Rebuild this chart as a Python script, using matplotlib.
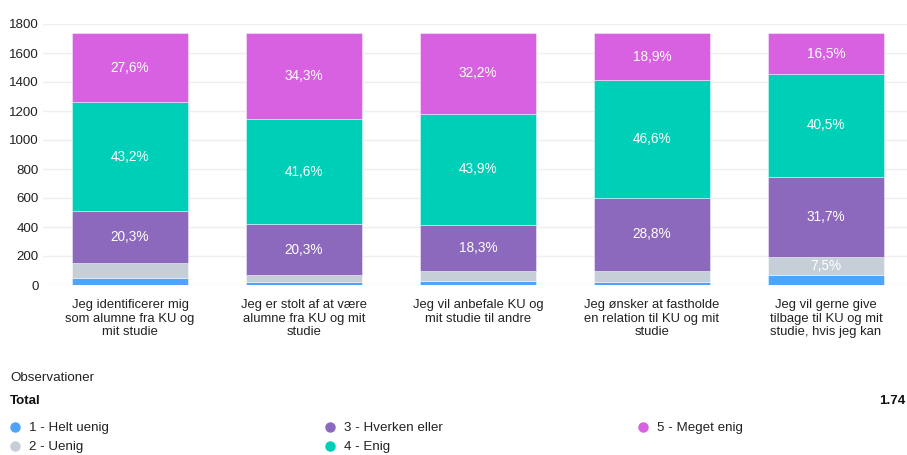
import numpy as np
import matplotlib.pyplot as plt
from matplotlib.lines import Line2D

plt.rcParams['font.family'] = ['Liberation Sans', 'DejaVu Sans']

categories = [
    "Jeg identificerer mig\nsom alumne fra KU og\nmit studie",
    "Jeg er stolt af at være\nalumne fra KU og mit\nstudie",
    "Jeg vil anbefale KU og\nmit studie til andre",
    "Jeg ønsker at fastholde\nen relation til KU og mit\nstudie",
    "Jeg vil gerne give\ntilbage til KU og mit\nstudie, hvis jeg kan",
]
series = ["1 - Helt uenig", "2 - Uenig", "3 - Hverken eller", "4 - Enig", "5 - Meget enig"]
colors = ["#4fa3fb", "#c6cfd7", "#8c69bc", "#00cfb8", "#d761e0"]

helt_uenig = [45, 24, 30, 22, 66]
uenig = [110, 42, 67, 77, 130]
hverken = [353, 353, 318, 501, 552]
enig = [752, 724, 765, 811, 705]
meget_enig = [480, 597, 560, 329, 287]
pct_labels = [
    [None, None, None, None, None],
    [None, None, None, None, "7,5%"],
    ["20,3%", "20,3%", "18,3%", "28,8%", "31,7%"],
    ["43,2%", "41,6%", "43,9%", "46,6%", "40,5%"],
    ["27,6%", "34,3%", "32,2%", "18,9%", "16,5%"],
]
total_label = "1.74"

data = [helt_uenig, uenig, hverken, enig, meget_enig]

fig = plt.figure(figsize=(9.07, 4.55), dpi=100)
ax = fig.add_axes([43 / 907, 1 - 285 / 455, 864 / 907, 261 / 455])

x = np.arange(len(categories))
bottom = np.zeros(len(categories))
for vals, col, labs in zip(data, colors, pct_labels):
    vals = np.array(vals, dtype=float)
    ax.bar(x, vals, 0.667, bottom=bottom, color=col, edgecolor=(1, 1, 1, 0.5),
           linewidth=0.6, zorder=3)
    for i, lab in enumerate(labs):
        if lab:
            ax.text(x[i], bottom[i] + vals[i] / 2, lab, ha='center', va='center',
                    color='white', fontsize=9.8, zorder=4)
    bottom += vals

ax.set_xlim(-0.5, 4.5 - 6 / 174)
ax.set_ylim(0, 1800)
ax.set_yticks(range(0, 1801, 200))
ax.yaxis.grid(True, color='#efefef', linewidth=1, zorder=0)
ax.set_xticks(x)
ax.set_xticklabels(categories, fontsize=9.4, color='#222222', linespacing=1.2)
ax.tick_params(axis='y', labelsize=9.6, labelcolor='#222222', length=0, pad=3)
ax.tick_params(axis='x', length=0, pad=10)
for s in ax.spines.values():
    s.set_visible(False)

fig.text(10 / 907, 1 - 378 / 455, "Observationer", fontsize=9.6, color='#222222', va='center')
fig.text(10 / 907, 1 - 401 / 455, "Total", fontsize=9.6, fontweight='bold', color='#111111', va='center')
fig.text(905 / 907, 1 - 401 / 455, total_label, fontsize=9.6, fontweight='bold', color='#111111',
         va='center', ha='right')

leg_pos = [(15, 428), (15, 447), (330, 428), (330, 447), (643, 428)]
for (lx, ly), name, col in zip(leg_pos, series, colors):
    fig.add_artist(Line2D([lx / 907], [1 - (ly - 1) / 455], marker='o', markersize=6.5,
                          color=col, linestyle='none', transform=fig.transFigure))
    fig.text((lx + 14) / 907, 1 - ly / 455, name, fontsize=9.6, color='#222222', va='center')

fig.savefig("out.png", dpi=100)
